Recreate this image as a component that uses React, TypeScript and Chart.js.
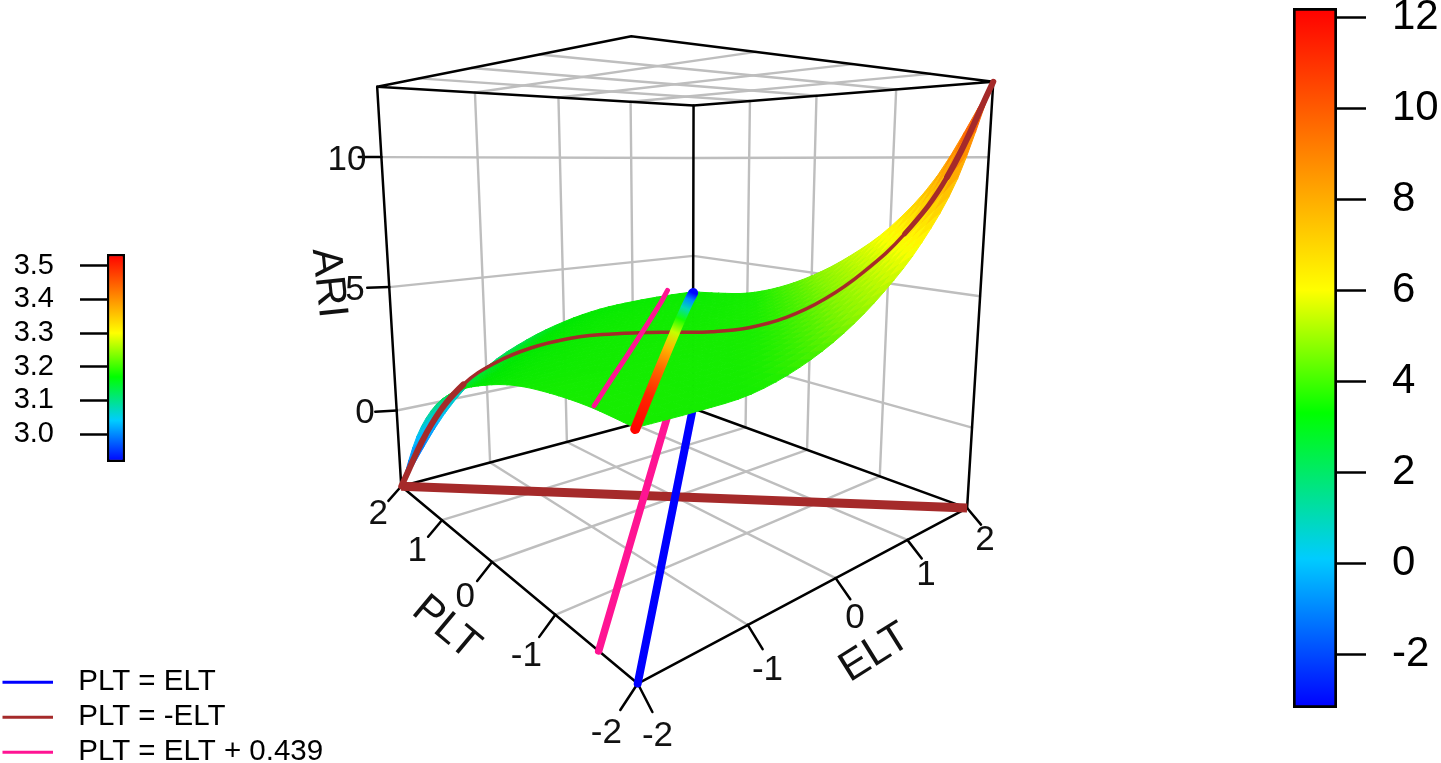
import React, { useEffect, useRef } from "react";
import { Chart, registerables } from "chart.js";

Chart.register(...registerables);

// ---------- data ----------
const eltTicks = [-2, -1, 0, 1, 2];
const pltTicks = [-2, -1, 0, 1, 2];
const ariTicks = [0, 5, 10];
// rows: PLT = 2 ... -2 ; columns: ELT = -2 ... 2 in steps of .5
const surfaceRows = [
  [-3.2, -0.57, 1.09, 2.0, 2.57, 2.91, 3.05, 3.11, 3.11],
  [-0.53, 1.15, 2.07, 2.64, 2.98, 3.14, 3.21, 3.21, 3.3],
  [1.21, 2.14, 2.7, 3.05, 3.22, 3.29, 3.3, 3.37, 3.56],
  [2.2, 2.77, 3.11, 3.28, 3.35, 3.37, 3.43, 3.61, 4.08],
  [2.83, 3.16, 3.33, 3.4, 3.43, 3.47, 3.64, 4.09, 4.85],
  [3.27, 3.36, 3.44, 3.47, 3.49, 3.66, 4.08, 4.82, 5.89],
  [3.5, 3.5, 3.5, 3.5, 3.66, 4.07, 4.8, 5.86, 7.27],
  [3.6, 3.55, 3.5, 3.65, 4.06, 4.78, 5.84, 7.25, 9.33],
  [3.56, 3.55, 3.62, 4.03, 4.75, 5.81, 7.23, 9.28, 12.6],
];
// PLT = -ELT, ELT = -2 ... 2 in steps of .25
const brownElt = [-2, -1.75, -1.5, -1.25, -1, -0.75, -0.5, -0.25, 0, 0.25, 0.5, 0.75, 1, 1.25, 1.5, 1.75, 2];
const brownAri = [-3.2, -0.55, 1.15, 2.1, 2.7, 3.08, 3.28, 3.38, 3.43, 3.48, 3.66, 4.08, 4.8, 5.85, 7.25, 9.3, 12.6];
// PLT = ELT
const blueElt = [-2, -1.5, -1, -0.5, 0, 0.5, 1, 1.5, 2];
const blueAri = [3.53, 3.52, 3.5, 3.47, 3.43, 3.37, 3.3, 3.2, 3.05];
const blueHue = [3.53, 3.5, 3.44, 3.37, 3.27, 3.18, 3.08, 3.0, 2.92];
// PLT = ELT + 0.439
const pinkOffset = 0.439;
const pinkElt = [-2, -1.5, -1, -0.5, 0, 0.5, 1, 1.561];
const pinkAri = [3.68, 3.62, 3.54, 3.48, 3.42, 3.38, 3.34, 3.37];
const rightTicks = [-2, 0, 2, 4, 6, 8, 10, 12];
const leftTicks = [3.0, 3.1, 3.2, 3.3, 3.4, 3.5];
const legendLabels = ["PLT = ELT", "PLT = -ELT", "PLT = ELT + 0.439"];

// ---------- styles & calibration ----------
const W = 1441;
const H = 763;
const zMin = -3.2;
const zMax = 12.6;
const FONT = "'Liberation Sans', Arial, sans-serif";
const GREY = "#bebebe";
const BLUE = "#0000ff";
const BROWN = "#a52a2a";
const PINK = "#ff1493";
const BAR_RIGHT: [number, number] = [-3.18, 12.2];
const BAR_LEFT: [number, number] = [2.917, 3.535];
const ariLabelX = [365, 355, 347];
type Stop = [number, number, number, number];
const rightStops: Stop[] = [[-3.18, 0, 0, 255], [0.1, 0, 204, 255], [3.3, 0, 255, 0], [6, 255, 255, 0], [12.2, 255, 0, 0]];
const leftStops: Stop[] = [[2.917, 0, 0, 255], [3.04, 0, 204, 255], [3.17, 0, 255, 0], [3.3, 255, 255, 0], [3.535, 255, 0, 0]];
const surfaceStops: Stop[] = [[-3.2, 0, 60, 255], [-0.5, 0, 190, 255], [1.4, 0, 220, 120], [2.7, 0, 232, 0], [3.7, 25, 238, 0], [4.9, 130, 245, 0], [7, 255, 255, 0], [10, 255, 150, 0], [12.6, 255, 30, 0]];

const colorAt = (stops: Stop[], z: number) => {
  if (z <= stops[0][0]) return `rgb(${stops[0][1]},${stops[0][2]},${stops[0][3]})`;
  for (let i = 1; i < stops.length; i++) {
    if (z <= stops[i][0]) {
      const a = stops[i - 1], b = stops[i];
      const f = (z - a[0]) / (b[0] - a[0]);
      const m = (k: number) => Math.round(a[k] + (b[k] - a[k]) * f);
      return `rgb(${m(1)},${m(2)},${m(3)})`;
    }
  }
  const l = stops[stops.length - 1];
  return `rgb(${l[1]},${l[2]},${l[3]})`;
};

// Camera calibration: the eight box corners as seen in the picture
const corners: [number, number, number, number, number][] = [
  [-2, 2, zMin, 401, 487], [-2, -2, zMin, 638, 683], [2, -2, zMin, 967, 508], [2, 2, zMin, 693, 408],
  [-2, 2, zMax, 378, 87], [-2, -2, zMax, 630, 35], [2, -2, zMax, 994, 83], [2, 2, zMax, 693, 105],
];
const solve = (A: number[][], b: number[]) => {
  const n = b.length;
  const M = A.map((r, i) => [...r, b[i]]);
  for (let c = 0; c < n; c++) {
    let piv = c;
    for (let r = c + 1; r < n; r++) if (Math.abs(M[r][c]) > Math.abs(M[piv][c])) piv = r;
    [M[c], M[piv]] = [M[piv], M[c]];
    for (let r = 0; r < n; r++) {
      if (r === c) continue;
      const f = M[r][c] / M[c][c];
      for (let k = c; k <= n; k++) M[r][k] -= f * M[c][k];
    }
  }
  return M.map((r, i) => r[n] / r[i]);
};
const zNorm = (z: number) => (z - 4.7) / 4;
const cam = (() => {
  const rows: number[][] = [];
  const rhs: number[] = [];
  corners.forEach(([X, Y, Z0, u0, v0]) => {
    const Z = zNorm(Z0), u = u0 / 1000, v = v0 / 1000;
    rows.push([X, Y, Z, 1, 0, 0, 0, 0, -u * X, -u * Y, -u * Z]); rhs.push(u);
    rows.push([0, 0, 0, 0, X, Y, Z, 1, -v * X, -v * Y, -v * Z]); rhs.push(v);
  });
  const N = rows[0].length;
  const AtA = Array.from({ length: N }, (_, i) => Array.from({ length: N }, (_, j) => rows.reduce((s, r) => s + r[i] * r[j], 0)));
  const Atb = Array.from({ length: N }, (_, i) => rows.reduce((s, r, k) => s + r[i] * rhs[k], 0));
  return solve(AtA, Atb);
})();
const project = (e: number, p: number, z0: number) => {
  const z = zNorm(z0);
  const w = cam[8] * e + cam[9] * p + cam[10] * z + 1;
  return {
    x: (1000 * (cam[0] * e + cam[1] * p + cam[2] * z + cam[3])) / w,
    y: (1000 * (cam[4] * e + cam[5] * p + cam[6] * z + cam[7])) / w,
  };
};

// smooth reading of the surface table between its knots
const cr = (a: number, b: number, c: number, d: number, t: number) =>
  0.5 * (2 * b + (c - a) * t + (2 * a - 5 * b + 4 * c - d) * t * t + (3 * b - a - 3 * c + d) * t * t * t);
const rowAt = (i: number, j: number) => {
  const ii = Math.min(8, Math.max(0, i));
  const jj = Math.min(8, Math.max(0, j));
  let v = surfaceRows[ii][jj];
  if (j < 0) v = 2 * surfaceRows[ii][0] - surfaceRows[ii][1];
  if (j > 8) v = 2 * surfaceRows[ii][8] - surfaceRows[ii][7];
  if (i < 0) v = 2 * surfaceRows[0][jj] - surfaceRows[1][jj];
  if (i > 8) v = 2 * surfaceRows[8][jj] - surfaceRows[7][jj];
  return v;
};
const surfaceAt = (e: number, p: number) => {
  const fj = (e + 2) / 0.5, fi = (2 - p) / 0.5;
  const j = Math.min(7, Math.floor(fj)), i = Math.min(7, Math.floor(fi));
  const tj = fj - j, ti = fi - i;
  const col = [-1, 0, 1, 2].map((di) =>
    cr(rowAt(i + di, j - 1), rowAt(i + di, j), rowAt(i + di, j + 1), rowAt(i + di, j + 2), tj));
  return cr(col[0], col[1], col[2], col[3], ti);
};

const lineSet = (pts: { x: number; y: number }[], color: any, width: number, extra: any = {}) => ({
  data: pts,
  showLine: true,
  borderColor: color,
  backgroundColor: color,
  borderWidth: width,
  pointRadius: 0,
  tension: 0,
  fill: false,
  borderCapStyle: "round",
  borderJoinStyle: "round",
  ...extra,
});

const buildDatasets = (ctx: CanvasRenderingContext2D) => {
  const sets: any[] = [];
  const seg = (a: number[], b: number[]) => [project(a[0], a[1], a[2]), project(b[0], b[1], b[2])];
  const inner = eltTicks.filter((v) => v > -2 && v < 2);
  const GW = 2.4;
  // grey grid: floor, ceiling, walls
  inner.forEach((v) => {
    [zMin, zMax].forEach((z) => {
      sets.push(lineSet(seg([v, -2, z], [v, 2, z]), GREY, GW));
      sets.push(lineSet(seg([-2, v, z], [2, v, z]), GREY, GW));
    });
    sets.push(lineSet(seg([v, 2, zMin], [v, 2, zMax]), GREY, GW));
    sets.push(lineSet(seg([2, v, zMin], [2, v, zMax]), GREY, GW));
  });
  ariTicks.forEach((z) => {
    sets.push(lineSet([project(-2, 2, z), project(2, 2, z), project(2, -2, z)], GREY, GW));
  });
  // black box
  const K = "#000000";
  const BW = 2.5;
  [zMin, zMax].forEach((z) => {
    sets.push(lineSet([project(-2, 2, z), project(-2, -2, z), project(2, -2, z), project(2, 2, z), project(-2, 2, z)], K, BW));
  });
  sets.push(lineSet(seg([-2, 2, zMin], [-2, 2, zMax]), K, BW));
  sets.push(lineSet(seg([2, -2, zMin], [2, -2, zMax]), K, BW));
  sets.push(lineSet(seg([2, 2, zMin], [2, 2, zMax]), K, BW));
  // axis ticks
  eltTicks.forEach((v) => sets.push(lineSet(seg([v, -2, zMin], [v, -2.15, zMin - 0.45]), K, BW)));
  pltTicks.forEach((v) => sets.push(lineSet(seg([-2, v, zMin], [-2.14, v, zMin - 0.47]), K, BW)));
  ariTicks.forEach((z) => sets.push(lineSet(seg([-2, 2, z], [-2.18, 2.1, z]), K, BW)));
  // floor projections
  sets.push(lineSet(seg([-2, 2, zMin], [2, -2, zMin]), BROWN, 9, { borderCapStyle: "butt" }));
  sets.push(lineSet(seg([-2, -2 + pinkOffset, zMin], [2 - pinkOffset, 2, zMin]), PINK, 7.5));
  sets.push(lineSet(seg([-2, -2, zMin], [2, 2, zMin]), BLUE, 8));
  // surface, back to front
  const N = 32;
  const cells: { e: number; p: number }[] = [];
  for (let i = 0; i < N; i++) for (let j = 0; j < N; j++) cells.push({ e: -2 + (4 * i) / N, p: -2 + (4 * j) / N });
  cells.sort((a, b) => b.e + b.p - (a.e + a.p));
  const h = 4 / N;
  cells.forEach(({ e, p }) => {
    const c = [[e, p], [e + h, p], [e + h, p + h], [e, p + h]];
    const zs = c.map(([a, b]) => surfaceAt(a, b));
    const pts = c.map(([a, b], k) => project(a, b, zs[k]));
    const col = colorAt(surfaceStops, (zs[0] + zs[1] + zs[2] + zs[3]) / 4);
    sets.push(lineSet([...pts, pts[0]], col, 1, { fill: "shape" }));
  });
  // lines on the surface
  const brownPts = brownElt.map((e, i) => project(e, -e, brownAri[i]));
  sets.push(lineSet(brownPts, BROWN, 4, {
    tension: 0.4,
    segment: { borderWidth: (c: any) => (c.p1DataIndex >= 16 || c.p1DataIndex <= 2 ? 6 : c.p1DataIndex === 15 ? 5 : 3.5) },
  }));
  const pinkPts = pinkElt.map((e, i) => project(e, e + pinkOffset, pinkAri[i]));
  sets.push(lineSet(pinkPts, PINK, 5));
  const bluePts = blueElt.map((e, i) => project(e, e, blueAri[i]));
  const first = bluePts[0], last = bluePts[bluePts.length - 1];
  const grad = ctx.createLinearGradient(first.x, first.y, last.x, last.y);
  const span = Math.hypot(last.x - first.x, last.y - first.y);
  bluePts.forEach((pt, i) => {
    grad.addColorStop(Math.min(1, Math.hypot(pt.x - first.x, pt.y - first.y) / span), colorAt(leftStops, blueHue[i]));
  });
  sets.push(lineSet(bluePts, grad, 10));
  return sets.reverse();
};

const textPlugin = {
  id: "boxText",
  afterDatasetsDraw(chart: any) {
    const { ctx, scales } = chart;
    const put = (s: string, x: number, y: number, size: number, rot = 0) => {
      ctx.save();
      ctx.translate(scales.x.getPixelForValue(x), scales.y.getPixelForValue(y));
      ctx.rotate((rot * Math.PI) / 180);
      ctx.font = `${size}px ${FONT}`;
      ctx.fillStyle = "#111";
      ctx.textAlign = "center";
      ctx.textBaseline = "middle";
      ctx.fillText(s, 0, 0);
      ctx.restore();
    };
    eltTicks.forEach((v) => {
      const q = project(v, -2.2, zMin - 1.0);
      put(String(v), q.x, q.y, 35);
    });
    pltTicks.forEach((v) => {
      const q = project(-2.25, v, zMin - 0.9);
      put(String(v), q.x, q.y, 35);
    });
    ariTicks.forEach((z, i) => {
      const q = project(-2, 2, z);
      put(String(z), ariLabelX[i], q.y + 3, 35);
    });
    put("ARI", 328, 283, 42, 84);
    put("PLT", 446, 628, 42, 40);
    put("ELT", 875, 653, 42, -32);
  },
};

const barChart = (
  canvas: HTMLCanvasElement,
  range: [number, number],
  ticks: number[],
  stops: Stop[],
  opts: { top: number; bottom: number; side: "left" | "right"; axisW: number; tickLen: number; pad: number; size: number; left: number; right: number; decimals: number; border: number }
) => {
  const ctx = canvas.getContext("2d")!;
  const grad = ctx.createLinearGradient(0, canvas.height - opts.bottom, 0, opts.top);
  const [lo, hi] = range;
  stops.forEach((s) => grad.addColorStop((s[0] - lo) / (hi - lo), `rgb(${s[1]},${s[2]},${s[3]})`));
  return new Chart(canvas, {
    type: "bar",
    data: {
      labels: ["scale"],
      datasets: [{
        data: [[lo, hi]],
        backgroundColor: grad,
        borderColor: "#000",
        borderWidth: opts.border,
        borderSkipped: false,
        barPercentage: 1,
        categoryPercentage: 1,
      }],
    },
    options: {
      responsive: false,
      animation: false,
      events: [],
      layout: { padding: { top: opts.top, bottom: opts.bottom, left: opts.left, right: opts.right } },
      plugins: { legend: { display: false }, tooltip: { enabled: false } },
      scales: {
        x: { display: false },
        y: {
          position: opts.side,
          min: lo,
          max: hi,
          afterFit: (s: any) => { s.width = opts.axisW; s.paddingTop = 0; s.paddingBottom = 0; },
          afterBuildTicks: (s: any) => { s.ticks = ticks.map((value) => ({ value })); },
          border: { display: false },
          grid: { drawOnChartArea: false, drawTicks: true, tickLength: opts.tickLen, tickColor: "#000", tickWidth: 2.5 },
          ticks: {
            padding: opts.pad,
            color: "#000",
            font: { size: opts.size, family: FONT },
            autoSkip: false,
            includeBounds: false,
            callback: (v: any) => Number(v).toFixed(opts.decimals),
          },
        },
      },
    },
  } as any);
};

export default function App() {
  const mainRef = useRef<HTMLCanvasElement>(null);
  const rightRef = useRef<HTMLCanvasElement>(null);
  const leftRef = useRef<HTMLCanvasElement>(null);
  const legendRef = useRef<HTMLCanvasElement>(null);

  useEffect(() => {
    document.body.style.margin = "0";
    document.body.style.background = "#fff";
    const charts: Chart[] = [];
    const mainCanvas = mainRef.current!;
    charts.push(new Chart(mainCanvas, {
      type: "scatter",
      data: { datasets: buildDatasets(mainCanvas.getContext("2d")!) },
      options: {
        responsive: false,
        animation: false,
        events: [],
        layout: { padding: 0 },
        plugins: { legend: { display: false }, tooltip: { enabled: false } },
        scales: {
          x: { type: "linear", display: false, min: 0, max: W },
          y: { type: "linear", display: false, min: 0, max: H, reverse: true },
        },
      },
      plugins: [textPlugin],
    } as any));

    charts.push(barChart(rightRef.current!, BAR_RIGHT, rightTicks, rightStops, {
      top: 8, bottom: 55, side: "right", axisW: 104, tickLen: 29, pad: 26, size: 42, left: 3, right: 0, decimals: 0, border: 3,
    }));
    charts.push(barChart(leftRef.current!, BAR_LEFT, leftTicks, leftStops, {
      top: 254, bottom: 301, side: "left", axisW: 107, tickLen: 27, pad: 26, size: 29, left: 0, right: 2, decimals: 1, border: 2.5,
    }));

    const legendCanvas = legendRef.current!;
    const lctx = legendCanvas.getContext("2d")!;
    const legendColors = [BLUE, BROWN, PINK];
    const fills = legendColors.map((c) => {
      const g = lctx.createLinearGradient(5.5, 0, 66.5, 0);
      g.addColorStop(0, c);
      g.addColorStop(0.836, c);
      g.addColorStop(0.836, "rgba(0,0,0,0)");
      g.addColorStop(1, "rgba(0,0,0,0)");
      return g;
    });
    charts.push(new Chart(legendCanvas, {
      type: "line",
      data: {
        labels: [],
        datasets: legendLabels.map((label, i) => ({ label, data: [], borderColor: legendColors[i], backgroundColor: fills[i] })),
      },
      options: {
        responsive: false,
        animation: false,
        events: [],
        layout: { padding: 0 },
        scales: { x: { display: false }, y: { display: false } },
        plugins: {
          tooltip: { enabled: false },
          legend: {
            position: "left",
            align: "start",
            labels: {
              boxWidth: 61,
              boxHeight: 3,
              padding: 5.5,
              color: "#111",
              font: { size: 29.5, family: FONT },
              generateLabels: (ch: any) => ch.data.datasets.map((d: any, i: number) => ({
                text: d.label, fillStyle: fills[i], strokeStyle: "rgba(0,0,0,0)", lineWidth: 0, datasetIndex: i,
              })),
            },
          },
        },
      },
    } as any));
    return () => charts.forEach((c) => c.destroy());
  }, []);

  const abs = (left: number, top: number): React.CSSProperties => ({ position: "absolute", left, top, display: "block" });
  return (
    <div style={{ position: "relative", width: W, height: H, overflow: "hidden", background: "#fff" }}>
      <canvas ref={mainRef} width={W} height={H} style={abs(0, 0)} />
      <canvas ref={rightRef} width={151} height={H} style={abs(1290, 0)} />
      <canvas ref={leftRef} width={127} height={H} style={abs(0, 0)} />
      <canvas ref={legendRef} width={760} height={180} style={abs(-3, 662)} />
    </div>
  );
}
